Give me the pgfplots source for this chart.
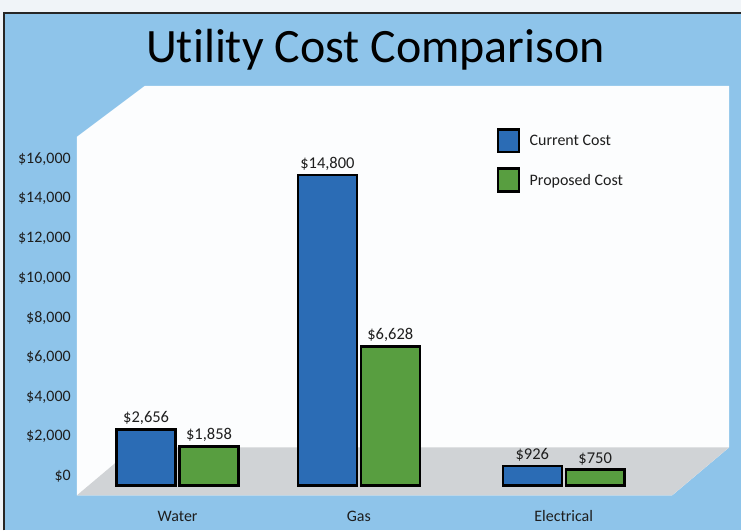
\documentclass[border=0pt]{standalone}
\usepackage{fontspec}
\setmainfont{Carlito}[Ligatures=NoCommon]
\usepackage{pgfplots}
\pgfplotsset{compat=1.18}
\definecolor{bgblue}{HTML}{8EC4EA}
\definecolor{wall}{HTML}{FCFDFE}
\definecolor{floorgray}{HTML}{D0D3D6}
\definecolor{barblue}{HTML}{2B6CB5}
\definecolor{bargreen}{HTML}{589E40}
\definecolor{txt}{HTML}{1E1E1E}
\definecolor{topband}{HTML}{F0F4F8}
\newcommand\lbl{\fontsize{16bp}{19bp}\selectfont}
\newcommand\vlbl{\fontsize{16.5bp}{19bp}\selectfont}
\begin{document}
\begin{tikzpicture}
% background and decorative 3D box
\fill[topband] (0bp,0bp) rectangle (742bp,531bp);
\fill[bgblue] (4bp,0bp) rectangle (742bp,518bp);
\draw[line width=2bp, color=black!85] (4bp,0bp) -- (4bp,518bp) -- (742bp,518bp);
\fill[wall] (145bp,445bp) -- (730bp,445bp) -- (730bp,83bp) -- (673bp,35bp) -- (77bp,35bp) -- (77bp,394bp) -- cycle;
\fill[floorgray] (134bp,83bp) -- (730bp,83bp) -- (673bp,35bp) -- (77bp,35bp) -- cycle;
\node[anchor=base, text=black, font=\fontsize{48bp}{56bp}\selectfont, inner sep=0pt] at (376bp,468bp) {Utility Cost Comparison};

% y tick labels axis
\begin{axis}[
  at={(78bp,54bp)}, anchor=south west, scale only axis,
  width=10bp, height=318bp,
  xmin=0, xmax=1, ymin=0, ymax=16000,
  xtick=\empty, ytick={0,2000,...,16000},
  axis line style={draw=none}, major tick length=0pt,
  scaled y ticks=false,
  /pgf/number format/fixed, /pgf/number format/1000 sep={,},
  /pgf/number format/assume math mode=true,
  yticklabel={\$\pgfmathprintnumber{\tick}},
  yticklabel style={font=\lbl, text=txt, anchor=east, inner sep=0pt, xshift=-7bp},
]
\end{axis}

% bars axis
\begin{axis}[
  at={(78bp,45bp)}, anchor=south west, scale only axis,
  width=599bp, height=399bp,
  xmin=-0.55, xmax=2.75, ymin=0, ymax=19000,
  axis line style={draw=none}, major tick length=0pt,
  ytick=\empty, xtick=data, xticklabels={Water,Gas,Electrical},
  xticklabel style={font=\lbl, text=txt, anchor=base, yshift=-36bp},
  ybar=4bp, bar width=59bp, clip=false,
  /pgf/number format/fixed, /pgf/number format/1000 sep={,},
  /pgf/number format/assume math mode=true,
  nodes near coords={\$\pgfmathprintnumber{\pgfplotspointmeta}},
  nodes near coords style={font=\vlbl, text=txt, anchor=south, inner sep=3.5bp},
  legend style={at={(0.6995,0.897)}, anchor=north west, draw=none, fill=none,
    font=\lbl, text=txt, row sep=14bp, inner sep=0pt},
  legend cell align=left,
  mylegend/.style={legend image code/.code={\draw[##1] (0bp,-11bp) rectangle (21bp,12bp); \path[draw=none,fill=none] (0bp,0bp) -- (30bp,0bp);}},
]
\addplot[fill=barblue, draw=black, line width=2.4bp, mylegend] coordinates {(0,2656) (1,14800) (2.13,926)};
\addplot[fill=bargreen, draw=black, line width=2.4bp, mylegend] coordinates {(0,1858) (1,6628) (2.13,750)};
\legend{Current Cost, Proposed Cost}
\end{axis}
\end{tikzpicture}
\end{document}
